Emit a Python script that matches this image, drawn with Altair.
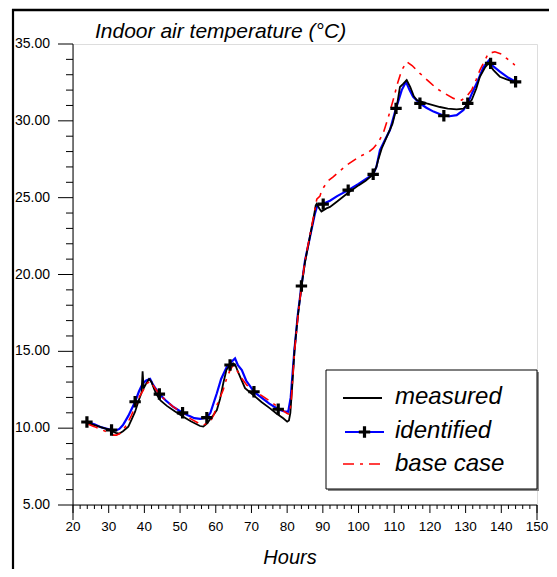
import altair as alt
import pandas as pd

# ---------------- data ----------------
measured_h = [24.0, 26, 28, 30, 32, 33, 34, 35.5, 36.5, 37.4, 38.4, 39.2, 39.5, 39.8, 40.5, 41.3, 42, 42.8, 43.4,
              44.5, 46.3, 48.5, 50.9, 53, 55.6, 56.5, 57.5, 58.5, 59.5, 60.3, 61.2, 62.1, 63, 64, 64.9, 65.5, 66,
              66.8, 68.2, 70.5, 72.8, 75.2, 77, 78.9, 80.0, 80.5, 80.9, 81.5, 82.1, 83, 84, 85, 86.4, 87.5, 88,
              88.3, 89, 89.6, 91, 92, 94, 97, 100, 102, 104, 105, 105.5, 106.5, 108, 109.5, 110.7, 111.6, 112.5,
              113.5, 114.5, 115.5, 116.3, 119.1, 122.8, 125, 127.5, 129.4, 131.7, 133, 134, 135.5, 136.4, 137.8,
              139.6, 141.5, 143.4, 144.3]
measured_t = [10.35, 10.2, 10.05, 9.9, 9.7, 9.65, 9.8, 10.1, 10.6, 11.07, 11.8, 12.3, 13.7, 12.6, 12.9, 13.2, 13.0,
              12.5, 12.2, 11.8, 11.45, 11.1, 10.75, 10.45, 10.14, 10.1, 10.3, 10.6, 10.9, 11.18, 11.9, 12.92, 13.8,
              14.1, 14.22, 14.1, 13.8, 13.35, 12.6, 12.16, 11.7, 11.29, 10.95, 10.64, 10.42, 10.5, 11.0, 13.0, 15.2,
              17.3, 19.2, 20.8, 22.5, 23.8, 24.5, 24.6, 24.3, 24.1, 24.3, 24.4, 24.75, 25.3, 25.8, 26.1, 26.5, 27.0,
              27.45, 28.2, 29.0, 29.8, 30.9, 32.2, 32.4, 32.65, 32.2, 31.6, 31.35, 31.14, 30.9, 30.8, 30.75, 30.8,
              31.35, 32.1, 32.87, 33.5, 33.74, 33.3, 32.87, 32.7, 32.54, 32.5]

identified_h = [23.9, 26, 28, 30.8, 32, 33, 34, 35.5, 37.4, 38.5, 39.5, 40.5, 41.6, 42.5, 44.2, 46, 48, 50.7, 52.5,
                54, 55.6, 57.5, 58.5, 60.3, 61.5, 63.1, 64, 64.5, 65.4, 66.2, 67.3, 68.5, 70.7, 73, 75, 77.5, 79,
                80.3, 81.0, 82.0, 83.0, 84.0, 85.0, 86.4, 87.8, 88.5, 90.1, 92, 94, 97.1, 100, 102, 104.1, 105, 106,
                107.5, 108.8, 110.5, 112.1, 113.3, 114.3, 115.3, 117.2, 119, 121, 123.9, 125.5, 127.5, 129.4, 130.6,
                131.8, 133.1, 135, 136.6, 137.5, 139.6, 142, 144]
identified_t = [10.4, 10.25, 10.05, 9.88, 9.85, 9.95, 10.2, 10.8, 11.72, 12.4, 12.9, 13.1, 13.2, 12.8, 12.22, 11.8,
                11.4, 11.0, 10.8, 10.65, 10.6, 10.68, 11.0, 12.27, 13.2, 14.0, 14.11, 14.35, 14.54, 14.1, 13.78, 13.1,
                12.37, 11.95, 11.6, 11.23, 11.1, 11.07, 12.0, 15.0, 17.4, 19.25, 20.9, 22.46, 23.98, 24.52, 24.6,
                24.8, 25.1, 25.49, 25.9, 26.2, 26.52, 27.0, 28.1, 28.8, 29.4, 30.81, 32.0, 32.54, 32.0, 31.56, 31.14,
                30.85, 30.6, 30.33, 30.3, 30.37, 30.7, 31.14, 31.8, 32.44, 33.5, 33.95, 33.6, 33.2, 32.8, 32.54]

base_h = [24.3, 26, 28, 30.4, 31.3, 32.2, 33.2, 35, 36.3, 37.4, 38.5, 39.7, 40.7, 41.6, 43, 44.2, 46, 48, 50.7, 53,
          55.6, 56.5, 58.4, 59.5, 60.5, 62.1, 63, 64, 64.9, 65.6, 66.8, 68.7, 71, 73.3, 75.5, 78, 79.9, 80.6, 81.1,
          82, 83, 84, 85, 86.4, 87.5, 88.3, 89.2, 89.7, 91.5, 92.9, 96.7, 100.4, 102.5, 104.1, 105.5, 106.9, 108.3,
          109.7, 111, 112.1, 113.5, 115, 117.2, 119.5, 121.9, 124, 126.6, 128.9, 130.3, 131.7, 133, 134, 135.3,
          136.4, 138.2, 140, 141.5, 143.8]
base_t = [10.25, 10.1, 9.9, 9.66, 9.55, 9.55, 9.66, 10.2, 10.8, 11.4, 12.0, 12.48, 12.9, 13.07, 12.6, 12.2, 11.8,
          11.4, 11.0, 10.6, 10.27, 10.2, 10.42, 10.9, 11.6, 12.5, 13.2, 13.78, 14.1, 13.9, 13.4, 12.8, 12.4, 12.05,
          11.7, 11.29, 10.97, 10.9, 11.6, 14.8, 17.2, 19.2, 20.9, 22.6, 23.9, 24.9, 25.1, 25.5, 26.1, 26.36, 27.12,
          27.7, 27.9, 28.2, 28.6, 29.18, 30.2, 31.35, 32.5, 33.3, 33.84, 33.6, 33.09, 32.6, 32.1, 31.8, 31.46, 31.35,
          31.6, 32.0, 32.7, 33.3, 33.9, 34.39, 34.49, 34.35, 34.06, 33.63]

marker_h = [23.9, 30.8, 37.4, 44.2, 50.7, 57.5, 64.0, 70.7, 77.5, 84.0, 90.1, 97.1, 104.1, 110.5, 117.2, 123.9,
            130.6, 137.0, 144.0]
marker_t = [10.4, 9.88, 11.72, 12.22, 11.0, 10.68, 14.11, 12.37, 11.23, 19.25, 24.58, 25.49, 26.52, 30.81, 31.14,
            30.33, 31.14, 33.74, 32.54]

x_major = list(range(20, 151, 10))
x_minor = [v for v in range(22, 150, 2) if v % 10]
x_ends = [20, 150]
y_major = list(range(5, 36, 5))
y_minor = [v for v in range(6, 35) if v % 5]

legend_labels = ["measured", "identified", "base case"]
chart_title = "Indoor air temperature (°C)"
x_title = "Hours"

# ---------------- chart ----------------
W, H = 464, 461
FONT = "Liberation Sans"
xs = alt.Scale(domain=[20, 150], nice=False, zero=False)
ys = alt.Scale(domain=[5, 35], nice=False, zero=False)
one = pd.DataFrame({"a": [0]})
X = lambda f: alt.X(f, scale=xs, axis=None)
Y = lambda f: alt.Y(f, scale=ys, axis=None)

df_m = pd.DataFrame({"h": measured_h, "t": measured_t})
df_i = pd.DataFrame({"h": identified_h, "t": identified_t})
df_b = pd.DataFrame({"h": base_h, "t": base_t})
df_k = pd.DataFrame({"h": marker_h, "t": marker_t})

blue = alt.Chart(df_i).mark_line(color="#0000ff", strokeWidth=2.2).encode(
    x=X("h:Q"), y=Y("t:Q"), order="h:Q")
black = alt.Chart(df_m).mark_line(color="black", strokeWidth=1.8).encode(
    x=X("h:Q"), y=Y("t:Q"), order="h:Q")
red = alt.Chart(df_b).mark_line(color="#ff0000", strokeWidth=1.6, strokeDash=[10, 6, 3, 6]).encode(
    x=X("h:Q"), y=Y("t:Q"), order="h:Q")
PLUS = "M-1,0L1,0M0,-1L0,1"
marks = alt.Chart(df_k).mark_point(shape=PLUS, filled=False, stroke="black", strokeWidth=3.2, size=130,
                                   opacity=1).encode(x=X("h:Q"), y=Y("t:Q"))

# axes (domain lines, ticks and labels drawn through the scales)
x_domain = alt.Chart(one).mark_rule(color="black", strokeWidth=1).encode(
    x=alt.value(0), x2=alt.value(W), y=alt.value(H))
y_domain = alt.Chart(one).mark_rule(color="black", strokeWidth=1).encode(
    x=alt.value(0), y=alt.value(0), y2=alt.value(H))
xmajor = alt.Chart(pd.DataFrame({"v": x_major})).mark_rule(color="black", strokeWidth=1).encode(
    x=X("v:Q"), y=alt.value(H), y2=alt.value(H + 8))
xlabels = alt.Chart(pd.DataFrame({"v": x_major})).mark_text(
    baseline="middle", align="center", fontSize=13.5, font=FONT, color="black").encode(
    x=X("v:Q"), y=alt.value(H + 22), text=alt.Text("v:Q", format="d"))
xminor = alt.Chart(pd.DataFrame({"v": x_minor})).mark_rule(color="black", strokeWidth=1).encode(
    x=X("v:Q"), y=alt.value(H), y2=alt.value(H + 4))
xend = alt.Chart(pd.DataFrame({"v": x_ends})).mark_rule(color="black", strokeWidth=1).encode(
    x=X("v:Q"), y=alt.value(H), y2=alt.value(H + 15))
ymajor = alt.Chart(pd.DataFrame({"v": y_major})).mark_rule(color="black", strokeWidth=1).encode(
    y=Y("v:Q"), x=alt.value(-15), x2=alt.value(0))
ylabels = alt.Chart(pd.DataFrame({"v": y_major})).mark_text(
    baseline="middle", align="right", fontSize=14, font=FONT, color="black").encode(
    y=Y("v:Q"), x=alt.value(-23), text=alt.Text("v:Q", format=".2f"))
yminor = alt.Chart(pd.DataFrame({"v": y_minor})).mark_rule(color="black", strokeWidth=1).encode(
    y=Y("v:Q"), x=alt.value(-7), x2=alt.value(0))

# frame
frame_top = alt.Chart(one).mark_rule(color="black", strokeWidth=2.6).encode(
    x=alt.value(-61), x2=alt.value(520), y=alt.value(-34))
frame_left = alt.Chart(one).mark_rule(color="black", strokeWidth=2.2).encode(
    x=alt.value(-60), y=alt.value(-35), y2=alt.value(600))

title_txt = alt.Chart(one).mark_text(text=chart_title, align="left", baseline="alphabetic", fontSize=21,
                                     fontStyle="italic", font=FONT, color="black").encode(
    x=alt.value(22), y=alt.value(-6))
xtitle_txt = alt.Chart(one).mark_text(text=x_title, align="center", baseline="alphabetic", fontSize=20,
                                      fontStyle="italic", font=FONT, color="black").encode(
    x=alt.value(217), y=alt.value(520))

# legend
leg_shadow = alt.Chart(one).mark_rect(fill="#888888").encode(
    x=alt.value(255), x2=alt.value(466), y=alt.value(328), y2=alt.value(447))
leg_box = alt.Chart(one).mark_rect(fill="white", stroke="black", strokeWidth=1).encode(
    x=alt.value(253), x2=alt.value(464), y=alt.value(326), y2=alt.value(445))
leg_m = alt.Chart(one).mark_rule(color="black", strokeWidth=1.8).encode(
    x=alt.value(270), x2=alt.value(309), y=alt.value(354))
leg_i = alt.Chart(one).mark_rule(color="#0000ff", strokeWidth=2.2).encode(
    x=alt.value(272), x2=alt.value(311), y=alt.value(388))
leg_ip = alt.Chart(one).mark_point(shape=PLUS, filled=False, stroke="black", strokeWidth=3.2, size=130,
                                   opacity=1).encode(x=alt.value(291.5), y=alt.value(388))
leg_b = alt.Chart(one).mark_rule(color="#ff0000", strokeWidth=1.6, strokeDash=[11, 6, 3, 6]).encode(
    x=alt.value(270), x2=alt.value(309), y=alt.value(420))
leg_texts = []
for lab, yy in zip(legend_labels, [360, 394, 427]):
    leg_texts.append(alt.Chart(one).mark_text(text=lab, align="left", baseline="alphabetic", fontSize=24,
                                              fontStyle="italic", font=FONT, color="black").encode(
        x=alt.value(322), y=alt.value(yy)))

chart = alt.layer(
    blue, black, red, marks, x_domain, y_domain, xmajor, xlabels, xminor, xend, ymajor, ylabels, yminor,
    frame_top, frame_left, title_txt, xtitle_txt,
    leg_shadow, leg_box, leg_m, leg_i, leg_ip, leg_b, *leg_texts
).properties(
    width=W, height=H,
    autosize=alt.AutoSizeParams(type="none"),
    padding={"left": 65, "top": 36, "right": 12, "bottom": 64},
).configure_view(stroke=None).configure(background="white")

chart.save("out.html", embed_options={"renderer": "svg", "actions": False})
